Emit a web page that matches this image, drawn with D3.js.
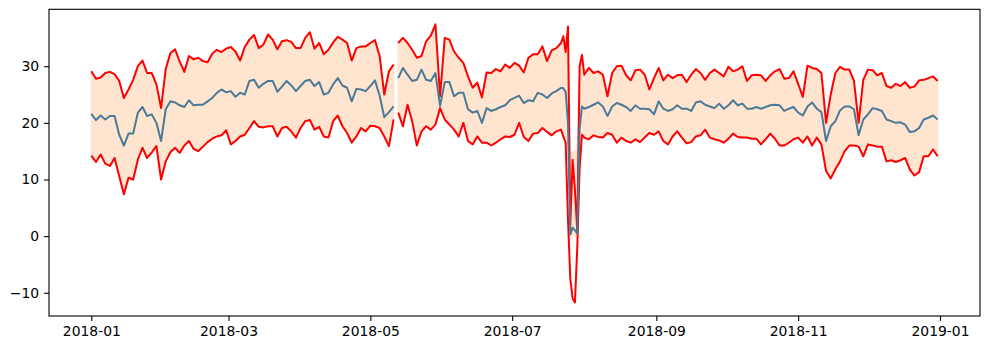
<!DOCTYPE html>
<html>
<head>
<meta charset="utf-8">
<script src="https://cdn.jsdelivr.net/npm/d3@7"></script>
<style>
  body { margin: 0; background: #fff; }
  svg { display: block; }
  text { font-family: "DejaVu Sans", sans-serif; font-size: 13.9px; fill: #000; }
</style>
</head>
<body>
<div id="chart"></div>
<script>
// day offsets from 2018-01-01 (2-day steps, daily around the gap and the late-July drop)
var days = [
  0, 2, 4, 6, 8, 10, 12, 14, 16, 18, 20, 22, 24, 26, 28, 30, 32, 34, 36, 38,
  40, 42, 44, 46, 48, 50, 52, 54, 56, 58, 60, 62, 64, 66, 68, 70, 72, 74, 76, 78,
  80, 82, 84, 86, 88, 90, 92, 94, 96, 98, 100, 102, 104, 106, 108, 110, 112, 114, 116, 118,
  120, 122, 124, 126, 128, 130, 131, 132, 134, 136, 138, 140, 142, 144, 146, 148, 150, 152, 154, 156, 158,
  160, 162, 164, 166, 168, 170, 172, 174, 176, 178, 180, 182, 184, 186, 188, 190, 192, 194, 196, 198,
  200, 202,
  203, 204, 205, 206, 207, 208, 209, 210, 211, 212,
  214, 216, 218, 220, 222, 224, 226, 228, 230, 232, 234, 236, 238, 240, 242, 244,
  246, 248, 250, 252, 254, 256, 258, 260, 262, 264, 266, 268, 270, 272, 274, 276, 278, 280, 282, 284,
  286, 288, 290, 292, 294, 296, 298, 300, 302, 304, 306, 308, 310, 312, 314, 316, 318, 320, 322, 324,
  326, 328, 330, 332, 334, 336, 338, 340, 342, 344, 346, 348, 350, 352, 354, 356, 358, 360, 362, 364
];

var upper = [
  29.1, 27.8, 28.0, 28.8, 29.0, 28.6, 27.4, 24.4, 25.9, 27.6, 30.0, 31.0, 28.8, 28.8, 26.8, 22.6, 29.5, 32.3, 33.0, 30.8,
  29.0, 31.8, 31.2, 31.5, 30.9, 30.7, 32.2, 32.9, 32.5, 33.1, 33.4, 32.6, 31.0, 33.4, 34.7, 35.5, 33.2, 33.8, 35.6, 34.7,
  33.0, 34.4, 34.6, 34.3, 33.2, 33.2, 35.0, 36.0, 33.1, 34.1, 32.1, 32.9, 34.2, 35.2, 34.7, 34.1, 31.0, 33.2, 33.5, 33.5,
  34.1, 34.6, 31.8, 25.0, 29.1, 30.3, null, 34.1, 35.0, 34.1, 32.9, 31.5, 31.8, 34.4, 35.4, 37.4, 24.7, 35.0, 34.7, 32.6, 31.5,
  30.6, 28.2, 26.2, 27.1, 24.5, 28.9, 28.8, 29.5, 29.1, 30.3, 29.7, 30.6, 30.1, 28.9, 31.5, 32.1, 32.1, 33.5, 30.9, 32.8,
  33.2, 34.1,
  35.3, 32.5, 37.0, 2.0, 13.5, 8.0, 1.0, 30.0, 32.0, 28.5,
  29.7, 28.8, 29.1, 28.5, 24.7, 28.8, 30.0, 30.1, 28.4, 27.5, 29.3, 29.4, 28.5, 25.9, 27.9, 29.7,
  27.5, 28.5, 27.9, 28.4, 28.5, 27.2, 28.5, 29.5, 28.8, 27.6, 28.8, 29.4, 28.8, 28.2, 29.9, 29.1, 29.4, 30.0, 27.4, 28.4,
  28.5, 28.4, 27.4, 28.4, 29.1, 29.5, 27.8, 27.9, 29.1, 26.9, 24.6, 30.1, 29.7, 29.5, 28.8, 20.0, 25.0, 28.8, 29.9, 29.4,
  29.4, 27.4, 20.0, 27.6, 29.4, 29.3, 28.4, 28.8, 26.5, 26.2, 26.9, 26.5, 27.2, 26.2, 26.4, 27.5, 27.6, 27.9, 28.2, 27.4
];

var middle = [
  21.6, 20.5, 21.3, 20.6, 21.2, 21.2, 17.9, 16.0, 18.1, 18.1, 21.8, 22.8, 21.2, 21.5, 20.0, 16.8, 22.4, 23.8, 23.6, 23.1,
  22.8, 24.0, 23.1, 23.2, 23.2, 23.8, 24.4, 25.3, 25.9, 25.4, 25.6, 24.6, 25.3, 25.0, 27.4, 27.6, 26.2, 26.9, 27.4, 27.4,
  25.5, 26.4, 27.4, 26.6, 25.6, 26.5, 27.4, 27.6, 26.5, 27.2, 25.0, 25.3, 26.8, 27.9, 26.6, 26.2, 23.8, 26.0, 25.9, 25.6,
  26.5, 27.5, 24.8, 21.0, 21.9, 22.9, null, 27.9, 29.7, 28.5, 27.4, 27.6, 29.4, 27.6, 27.4, 28.8, 23.0, 27.2, 27.2, 24.7, 25.3,
  25.3, 22.4, 21.8, 22.1, 20.0, 22.6, 22.1, 22.4, 22.8, 23.1, 24.0, 24.4, 24.8, 23.5, 24.0, 23.8, 25.3, 25.0, 24.4, 25.2,
  25.6, 26.2,
  26.1, 25.5, 20.0, 0.3, 1.5, 1.0, 0.5, 19.0, 22.9, 22.5,
  22.8, 23.2, 23.6, 22.9, 21.2, 22.9, 23.5, 23.2, 22.8, 22.1, 23.1, 22.5, 22.5, 22.4, 21.5, 23.8,
  22.5, 22.1, 22.4, 23.1, 22.5, 22.5, 22.1, 23.6, 23.8, 23.2, 22.9, 22.6, 23.4, 22.5, 23.1, 24.0, 23.1, 23.4, 22.5, 22.5,
  22.8, 22.5, 22.8, 23.1, 23.2, 23.1, 22.1, 22.5, 22.8, 21.8, 21.3, 22.9, 23.6, 22.5, 21.9, 16.8, 19.4, 20.3, 22.2, 22.9,
  22.9, 22.4, 17.8, 20.6, 21.5, 22.6, 22.4, 22.1, 20.6, 20.3, 20.0, 20.1, 19.7, 18.4, 18.5, 19.1, 20.6, 20.9, 21.3, 20.6
];

var lower = [
  14.2, 13.1, 14.4, 12.8, 12.4, 13.8, 10.6, 7.4, 10.3, 10.0, 13.5, 15.6, 13.8, 14.8, 15.9, 10.0, 13.2, 14.8, 15.6, 14.7,
  16.0, 16.8, 15.4, 15.0, 15.8, 16.6, 17.2, 17.6, 17.8, 18.7, 16.2, 16.8, 17.6, 17.9, 19.1, 20.3, 19.3, 19.2, 19.4, 19.4,
  17.6, 19.1, 19.3, 18.5, 17.4, 19.1, 20.3, 20.5, 18.8, 19.3, 17.6, 17.4, 20.3, 21.3, 19.4, 18.2, 16.5, 17.6, 19.1, 18.5,
  19.5, 19.4, 19.1, 17.6, 15.9, 20.6, null, 21.8, 19.4, 23.2, 20.3, 16.0, 18.5, 19.4, 18.8, 19.7, 22.6, 20.6, 19.7, 18.8, 17.6,
  20.0, 16.8, 16.2, 17.6, 16.5, 16.5, 16.0, 16.5, 17.1, 17.6, 17.5, 17.9, 20.0, 17.5, 16.8, 18.1, 18.2, 19.1, 18.4, 17.8,
  18.5, 18.8,
  17.6, 16.5, 3.0, -7.5, -11.0, -11.7, -2.0, 12.0, 17.9, 17.4,
  17.1, 17.8, 17.5, 17.4, 18.2, 17.9, 16.5, 17.4, 16.8, 16.5, 17.1, 16.6, 17.4, 18.2, 17.9, 18.5,
  16.8, 16.2, 17.6, 18.5, 17.4, 16.4, 16.6, 17.6, 17.8, 18.8, 17.4, 17.1, 16.9, 16.5, 17.2, 18.1, 17.5, 17.4, 17.4, 17.2,
  17.2, 16.2, 17.1, 18.1, 17.2, 16.0, 16.0, 16.5, 17.1, 17.4, 16.5, 17.6, 16.0, 17.4, 16.2, 11.5, 10.2, 11.8, 13.2, 15.0,
  16.0, 16.0, 15.8, 14.1, 16.2, 16.0, 15.8, 15.8, 13.2, 13.4, 13.1, 13.4, 13.8, 11.8, 10.7, 11.3, 14.1, 14.1, 15.3, 14.1
];

// the shaded band follows the red lines except during the drop, where it hugs the mean
var bandDipDays = [205, 206, 207, 208, 209];
var bandDipHi = [37.0, 14.0, 15.0, 15.0, 14.0];
var bandDipLo = [16.0, -0.5, 0.5, 0.0, -0.3];

var xTickLabels = ["2018-01", "2018-03", "2018-05", "2018-07", "2018-09", "2018-11", "2019-01"];
var yTickValues = [-10, 0, 10, 20, 30];

var W = 988, H = 351;
var plot = {left: 49, right: 980, top: 9.3, bottom: 316};

var start = Date.UTC(2018, 0, 1);
var DAY = 864e5;
function toDate(d) { return new Date(start + d * DAY); }

var rows = days.map(function(d, i) {
  var k = bandDipDays.indexOf(d);
  return {
    date: toDate(d),
    up: upper[i], mid: middle[i], lo: lower[i],
    bandHi: k >= 0 ? bandDipHi[k] : upper[i],
    bandLo: k >= 0 ? bandDipLo[k] : lower[i]
  };
});

var span = days[days.length - 1] - days[0];
var x = d3.scaleUtc()
  .domain([toDate(days[0] - span * 0.05), toDate(days[days.length - 1] + span * 0.05)])
  .range([plot.left, plot.right]);

var y = d3.scaleLinear()
  .domain([-14.1, 40.05])
  .range([plot.bottom, plot.top]);

var svg = d3.select('#chart').append('svg')
  .attr('width', W)
  .attr('height', H);

var g = svg.append('g');

var band = d3.area()
  .defined(function(d) { return d.up != null; })
  .x(function(d) { return x(d.date); })
  .y0(function(d) { return y(d.bandLo); })
  .y1(function(d) { return y(d.bandHi); });

g.append('path')
  .datum(rows)
  .attr('d', band)
  .attr('fill', '#ffe5cf')
  .attr('stroke', '#ffe5cf')
  .attr('stroke-width', 1.5);

function lineFor(key) {
  return d3.line()
    .defined(function(d) { return d[key] != null; })
    .x(function(d) { return x(d.date); })
    .y(function(d) { return y(d[key]); });
}

g.append('path').datum(rows)
  .attr('d', lineFor('up'))
  .attr('fill', 'none').attr('stroke', '#ff0000').attr('stroke-width', 2).attr('stroke-linejoin', 'round');

g.append('path').datum(rows)
  .attr('d', lineFor('lo'))
  .attr('fill', 'none').attr('stroke', '#ff0000').attr('stroke-width', 2).attr('stroke-linejoin', 'round');

g.append('path').datum(rows)
  .attr('d', lineFor('mid'))
  .attr('fill', 'none').attr('stroke', '#4a7a96').attr('stroke-width', 2).attr('stroke-linejoin', 'round');

// axes
var xTickDates = xTickLabels.map(function(s) {
  var p = s.split('-');
  return new Date(Date.UTC(+p[0], +p[1] - 1, 1));
});

var xAxis = d3.axisBottom(x)
  .tickValues(xTickDates)
  .tickFormat(d3.utcFormat('%Y-%m'))
  .tickSize(4.9)
  .tickSizeOuter(0)
  .tickPadding(5.2);

var yAxis = d3.axisLeft(y)
  .tickValues(yTickValues)
  .tickSize(4.9)
  .tickSizeOuter(0)
  .tickPadding(5);

var gx = svg.append('g')
  .attr('transform', 'translate(0,' + plot.bottom + ')')
  .call(xAxis);
var gy = svg.append('g')
  .attr('transform', 'translate(' + plot.left + ',0)')
  .call(yAxis);

[gx, gy].forEach(function(a) {
  a.select('.domain').remove();
  a.selectAll('line').attr('stroke', '#000').attr('stroke-width', 1.1);
  a.selectAll('text').attr('font-size', null).attr('font-family', null);
});

// frame
svg.append('rect')
  .attr('x', plot.left)
  .attr('y', plot.top)
  .attr('width', plot.right - plot.left)
  .attr('height', plot.bottom - plot.top)
  .attr('fill', 'none')
  .attr('stroke', '#000')
  .attr('stroke-width', 1.1);
</script>
</body>
</html>
